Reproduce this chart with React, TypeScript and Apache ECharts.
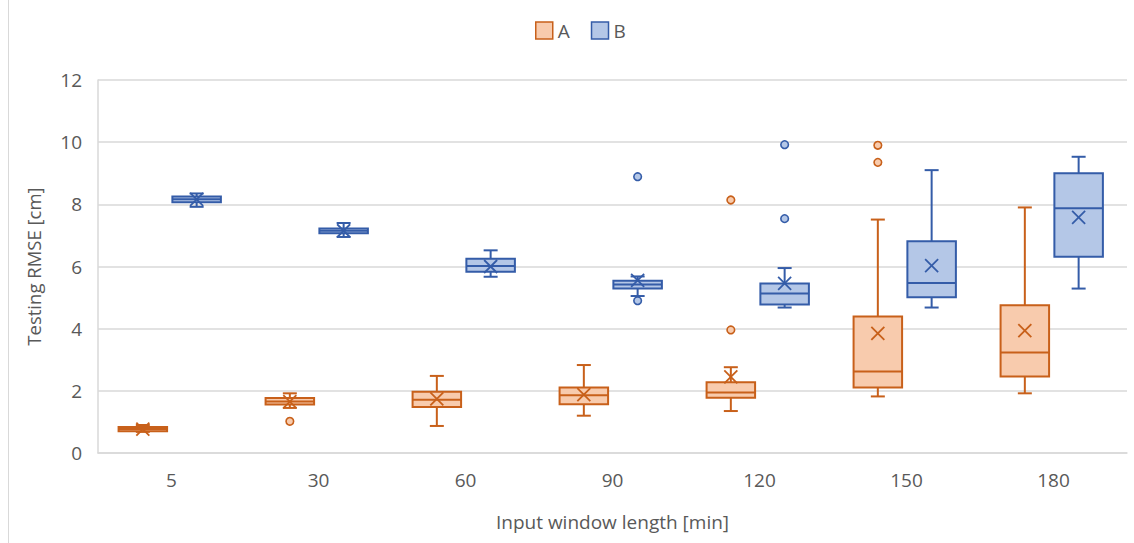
import React, { useEffect, useRef } from "react";
import * as echarts from "echarts";

const categories = ["5", "30", "60", "90", "120", "150", "180"];

// [min, Q1, median, Q3, max]
const boxA = [
  [0.68, 0.7, 0.77, 0.84, 0.9],
  [1.45, 1.56, 1.66, 1.77, 1.92],
  [0.87, 1.48, 1.71, 1.97, 2.48],
  [1.2, 1.57, 1.86, 2.11, 2.83],
  [1.35, 1.78, 1.95, 2.28, 2.76],
  [1.82, 2.11, 2.62, 4.39, 7.51],
  [1.92, 2.46, 3.23, 4.75, 7.9],
];
const meanA = [0.77, 1.65, 1.74, 1.88, 2.45, 3.85, 3.94];
const outliersA = [
  [1, 1.02],
  [4, 3.96],
  [4, 8.14],
  [5, 9.35],
  [5, 9.9],
];

const boxB = [
  [7.92, 8.07, 8.16, 8.25, 8.35],
  [6.95, 7.07, 7.15, 7.22, 7.4],
  [5.67, 5.83, 6.02, 6.25, 6.52],
  [5.05, 5.29, 5.42, 5.54, 5.68],
  [4.68, 4.78, 5.13, 5.45, 5.95],
  [4.68, 5.01, 5.47, 6.81, 9.1],
  [5.29, 6.31, 7.87, 9.0, 9.53],
];
const meanB = [8.16, 7.15, 6.0, 5.55, 5.46, 6.03, 7.58];
const outliersB = [
  [3, 4.9],
  [3, 8.89],
  [4, 7.54],
  [4, 9.92],
];

const yTicks = { min: 0, max: 12, interval: 2 };

const A_EDGE = "#C8601A";
const A_FILL = "#F8CBAD";
const B_EDGE = "#345CA8";
const B_FILL = "#B4C7E7";
const TEXT = "#595959";
const GRID = "#D9D9D9";
const FONT = "'Open Sans', sans-serif";

const OFF_A = -0.195;
const OFF_B = 0.171;
const BOX_FRAC = 0.33;

function boxRender(offset: number, fill: string, edge: string) {
  return (params: any, api: any) => {
    const idx = api.value(0);
    const band = api.size([1, 0])[0];
    const cx = api.coord([idx, 0])[0] + offset * band;
    const y = (k: number) => api.coord([idx, api.value(k)])[1];
    const yMin = y(1), yQ1 = y(2), yMed = y(3), yQ3 = y(4), yMax = y(5), yMean = y(6);
    const hw = (BOX_FRAC * band) / 2;
    const cap = 7;
    const m = 6.5;
    const ls = { stroke: edge, lineWidth: 2, fill: "none" };
    return {
      type: "group",
      children: [
        { type: "line", shape: { x1: cx, y1: yMax, x2: cx, y2: yQ3 }, style: ls },
        { type: "line", shape: { x1: cx, y1: yQ1, x2: cx, y2: yMin }, style: ls },
        { type: "line", shape: { x1: cx - cap, y1: yMax, x2: cx + cap, y2: yMax }, style: ls },
        { type: "line", shape: { x1: cx - cap, y1: yMin, x2: cx + cap, y2: yMin }, style: ls },
        {
          type: "rect",
          shape: { x: cx - hw, y: yQ3, width: 2 * hw, height: yQ1 - yQ3 },
          style: { fill, stroke: edge, lineWidth: 2 },
        },
        { type: "line", shape: { x1: cx - hw, y1: yMed, x2: cx + hw, y2: yMed }, style: ls },
        { type: "line", shape: { x1: cx - m, y1: yMean - m, x2: cx + m, y2: yMean + m }, style: { stroke: edge, lineWidth: 1.8 } },
        { type: "line", shape: { x1: cx - m, y1: yMean + m, x2: cx + m, y2: yMean - m }, style: { stroke: edge, lineWidth: 1.8 } },
      ],
    };
  };
}

function outlierRender(offset: number, fill: string, edge: string) {
  return (params: any, api: any) => {
    const idx = api.value(0);
    const band = api.size([1, 0])[0];
    const [px, py] = api.coord([idx, api.value(1)]);
    return {
      type: "circle",
      shape: { cx: px + offset * band, cy: py, r: 3.8 },
      style: { fill, stroke: edge, lineWidth: 1.6 },
    };
  };
}

export default function App() {
  const ref = useRef<HTMLDivElement>(null);
  useEffect(() => {
    if (!ref.current) return;
    const chart = echarts.init(ref.current, null, { renderer: "svg" });
    const dataA = boxA.map((b, i) => [i, ...b, meanA[i]]);
    const dataB = boxB.map((b, i) => [i, ...b, meanB[i]]);
    chart.setOption({
      animation: false,
      backgroundColor: "#fff",
      textStyle: { fontFamily: FONT },
      legend: {
        left: 530,
        top: 16,
        itemWidth: 17,
        itemHeight: 17,
        itemGap: 21,
        textStyle: { color: TEXT, fontSize: 19, fontFamily: FONT },
        data: [
          { name: "A", icon: "rect", itemStyle: { color: A_FILL, borderColor: A_EDGE, borderWidth: 1.5 } },
          { name: "B", icon: "rect", itemStyle: { color: B_FILL, borderColor: B_EDGE, borderWidth: 1.5 } },
        ],
      },
      grid: { left: 98, right: 7, top: 80, bottom: 90, containLabel: false },
      xAxis: {
        type: "category",
        data: categories,
        axisLine: { show: true, lineStyle: { color: GRID, width: 1.5 } },
        axisTick: { show: false },
        axisLabel: { color: TEXT, fontSize: 19, margin: 17, fontFamily: FONT },
        name: "Input window length [min]",
        nameLocation: "middle",
        nameGap: 59,
        nameTextStyle: { color: TEXT, fontSize: 19, fontFamily: FONT },
        splitLine: { show: false },
      },
      yAxis: {
        type: "value",
        min: yTicks.min,
        max: yTicks.max,
        interval: yTicks.interval,
        axisLine: { show: true, lineStyle: { color: GRID, width: 1.5 } },
        axisTick: { show: false },
        axisLabel: { color: TEXT, fontSize: 19, margin: 16, fontFamily: FONT },
        splitLine: { show: true, lineStyle: { color: GRID, width: 1.5 } },
        name: "Testing RMSE [cm]",
        nameLocation: "middle",
        nameGap: 55,
        nameTextStyle: { color: TEXT, fontSize: 18.5, fontFamily: FONT },
      },
      graphic: [
        {
          type: "line",
          shape: { x1: 8.5, y1: 0, x2: 8.5, y2: 543 },
          style: { stroke: GRID, lineWidth: 1 },
        },
      ],
      series: [
        {
          name: "A",
          type: "custom",
          itemStyle: { color: A_FILL, borderColor: A_EDGE },
          renderItem: boxRender(OFF_A, A_FILL, A_EDGE),
          encode: { x: 0, y: [1, 5] },
          data: dataA,
          z: 2,
        },
        {
          name: "B",
          type: "custom",
          itemStyle: { color: B_FILL, borderColor: B_EDGE },
          renderItem: boxRender(OFF_B, B_FILL, B_EDGE),
          encode: { x: 0, y: [1, 5] },
          data: dataB,
          z: 2,
        },
        {
          name: "A",
          type: "custom",
          itemStyle: { color: A_FILL, borderColor: A_EDGE },
          renderItem: outlierRender(OFF_A, A_FILL, A_EDGE),
          encode: { x: 0, y: 1 },
          data: outliersA,
          z: 3,
        },
        {
          name: "B",
          type: "custom",
          itemStyle: { color: B_FILL, borderColor: B_EDGE },
          renderItem: outlierRender(OFF_B, B_FILL, B_EDGE),
          encode: { x: 0, y: 1 },
          data: outliersB,
          z: 3,
        },
      ],
    });
    return () => chart.dispose();
  }, []);
  return <div ref={ref} style={{ width: 1134, height: 543, position: "absolute", left: 0, top: 0 }} />;
}
